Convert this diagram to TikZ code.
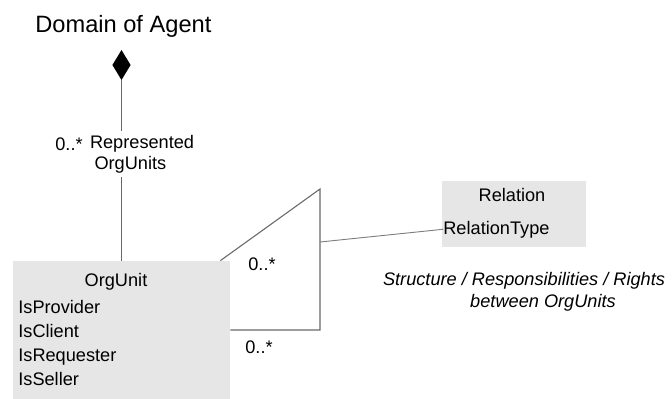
\documentclass[tikz,border=0pt]{standalone}
\usepackage{fontspec}
\setmainfont{Liberation Sans}
\usetikzlibrary{positioning,shapes.geometric,calc}

\begin{document}
\begin{tikzpicture}[x=0.55pt, y=-0.55pt, font=\fontsize{10}{11.6}\selectfont]
    % Define colors
    \definecolor{boxgray}{RGB}{230, 230, 230}
    \definecolor{linegray}{RGB}{105, 105, 105}
    \definecolor{relgray}{RGB}{125, 125, 125}
    \tikzset{
        classbox/.style={fill=boxgray, inner sep=0pt},
        umlline/.style={linegray, line width=0.6pt},
        relline/.style={relgray, line width=0.5pt},
        txt/.style={anchor=base west, inner sep=0pt},
        ctxt/.style={anchor=base, inner sep=0pt}
    }
    \useasboundingbox (0, 0) rectangle (672, 399);

    % Title
    \node[txt, font=\fontsize{13}{15}\selectfont] (domain) at (35, 33) {Domain of Agent};

    % Aggregation diamond and role
    \node[diamond, fill=black, aspect=0.6, inner sep=0pt, outer sep=0pt,
          minimum width=10pt, minimum height=16.5pt] (agg) at (121.5, 65) {};
    \node[txt] (mrep) at (55, 150) {0..*};
    \node[anchor=north west, align=left, inner sep=2pt] (rolename) at (86, 131)
        {Represented\\\hspace*{2.5pt}OrgUnits};

    % OrgUnit class
    \node[classbox, minimum width=119.35pt, minimum height=75.9pt] (orgunit) at (121.5, 330) {};
    \node[ctxt] (orgname) at (116, 286) {OrgUnit};
    \node[txt] (isprov) at (18, 313) {IsProvider};
    \node[txt] (isclient) at (18, 337) {IsClient};
    \node[txt] (isreq) at (18, 361) {IsRequester};
    \node[txt] (isseller) at (18, 385) {IsSeller};

    % Relation class
    \node[classbox, minimum width=79.2pt, minimum height=36.3pt] (relation) at (514, 214) {};
    \node[ctxt] (relname) at (512, 201) {Relation};
    \node[txt] (reltype) at (443, 234) {RelationType};

    % Note
    \node[ctxt, font=\fontsize{10}{11.6}\selectfont\itshape] (note1) at (524, 285)
        {Structure / Responsibilities / Rights};
    \node[ctxt, font=\fontsize{10}{11.6}\selectfont\itshape] (note2) at (543, 307)
        {between OrgUnits};

    % Reflexive association
    \coordinate (apex) at (320, 189);
    \coordinate (joint) at (320, 242);
    \node[txt] (mtop) at (248, 270) {0..*};
    \node[txt] (mbot) at (245, 353) {0..*};

    % Connectors
    \draw[umlline] (agg.south) -- (agg.south |- rolename.north);
    \draw[umlline] (agg.south |- rolename.south) -- (agg.south |- orgunit.north);
    \draw[umlline] ($(orgunit.north east)+(-10, 0)$) -- (apex) -- (apex |- orgunit.east) -- (orgunit.east);
    \draw[relline] (joint) -- (reltype.west);
\end{tikzpicture}
\end{document}
